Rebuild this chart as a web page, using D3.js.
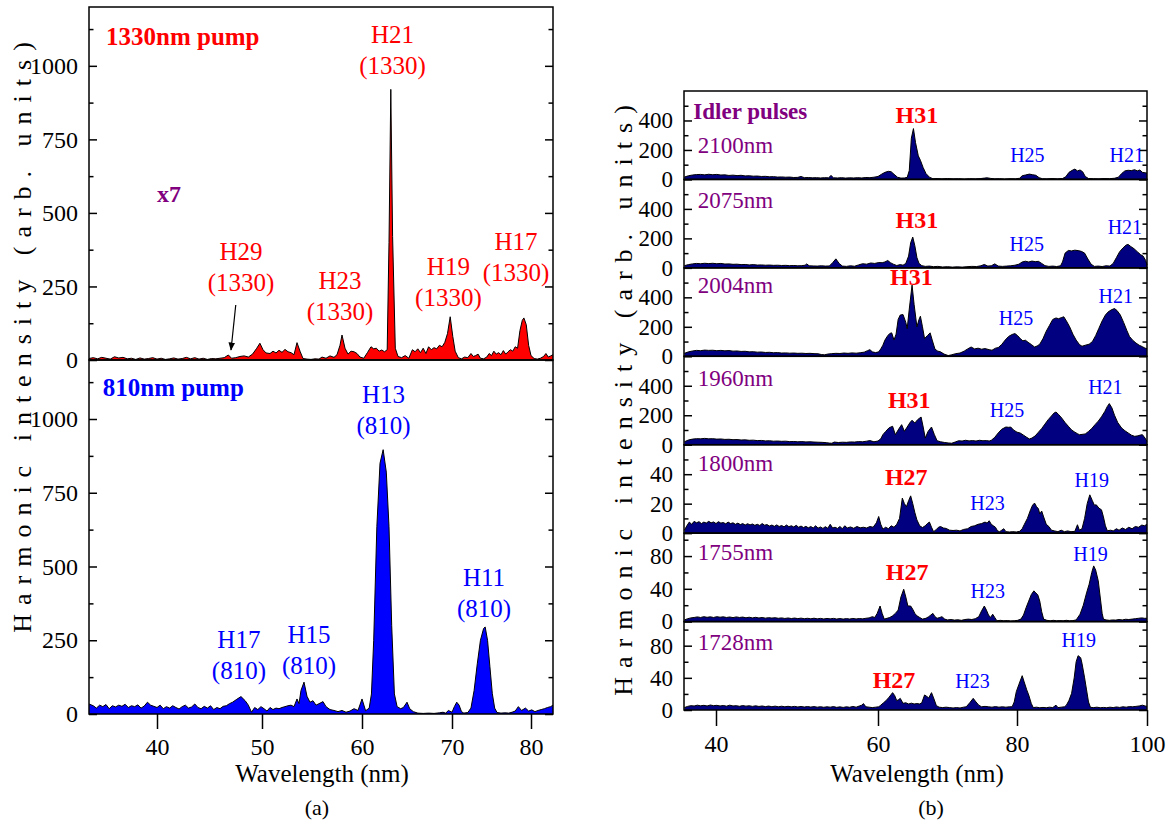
<!DOCTYPE html>
<html>
<head>
<meta charset="utf-8">
<script src="https://cdn.jsdelivr.net/npm/d3@7"></script>
<style>
body { margin: 0; background: #fff; }
svg, svg text { font-family: "Liberation Serif", "Times New Roman", "DejaVu Serif", serif; }
.spec-line { fill: none; stroke: #000; stroke-width: 1; }
.frame { fill: none; stroke: #000; stroke-width: 1.5; }
.tick line { stroke: #000; stroke-width: 1.5; }
</style>
</head>
<body>
<svg id="fig" width="1168" height="823"></svg>
<script>
// tick values
const leftTicks = [40, 50, 60, 70, 80];
const rightTicks = [40, 60, 80, 100];
const pumpMajor = [0, 250, 500, 750, 1000];
const pumpMinor = [125, 375, 625, 875, 1125];

// (a) 1330nm pump, x7   [wavelength nm, intensity]
const pump1330 = [[33.6,5],[34.0,8],[34.4,4],[34.8,9],[35.2,6],[35.6,3],[36.0,11],[36.4,7],[36.8,9],[37.2,4],[37.6,6],[38.0,2],[38.4,7],[38.8,3],[39.2,5],[39.6,8],[40.0,3],[40.4,6],[40.8,2],[41.2,4],[41.6,7],[42.0,3],[42.4,5],[42.8,9],[43.2,4],[43.6,8],[44.0,3],[44.4,6],[44.8,2],[45.2,5],[45.6,4],[46.0,6],[46.4,8],[46.8,17],[47.1,6],[47.5,8],[47.9,12],[48.3,14],[48.7,10],[49.1,20],[49.5,40],[49.8,57],[50.1,35],[50.4,24],[50.8,22],[51.1,30],[51.4,24],[51.7,33],[52.0,26],[52.3,36],[52.6,28],[52.9,25],[53.2,18],[53.5,59],[53.8,30],[54.1,5],[54.5,3],[54.9,2],[55.3,4],[55.7,3],[56.0,10],[56.4,6],[56.8,14],[57.2,9],[57.5,18],[57.8,50],[58.0,85],[58.3,40],[58.6,20],[58.9,30],[59.2,28],[59.5,22],[59.8,10],[60.2,6],[60.6,25],[61.0,45],[61.3,38],[61.6,40],[61.9,30],[62.2,34],[62.5,28],[62.8,35],[63.0,400],[63.2,920],[63.4,420],[63.7,40],[64.0,12],[64.4,8],[64.8,15],[65.2,6],[65.6,35],[65.9,28],[66.2,38],[66.5,25],[66.8,40],[67.1,22],[67.4,45],[67.7,35],[68.0,42],[68.3,38],[68.6,50],[68.9,45],[69.2,60],[69.5,90],[69.8,147],[70.1,80],[70.4,30],[70.8,8],[71.2,4],[71.6,10],[72.0,8],[72.4,22],[72.7,12],[73.0,15],[73.3,20],[73.6,6],[74.0,4],[74.4,10],[74.7,22],[75.0,15],[75.3,30],[75.6,20],[75.9,25],[76.2,18],[76.5,32],[76.8,20],[77.1,28],[77.4,35],[77.7,30],[78.0,45],[78.3,40],[78.6,100],[78.9,135],[79.1,143],[79.4,120],[79.7,50],[80.0,15],[80.4,5],[80.8,3],[81.2,6],[81.6,12],[81.9,22],[82.2,10],[82.5,14],[82.8,18]];

// (a) 810nm pump
const pump810 = [[33.6,34],[34.0,28],[34.3,20],[34.6,30],[34.9,25],[35.2,32],[35.5,18],[35.8,28],[36.1,24],[36.4,30],[36.7,26],[37.0,33],[37.3,22],[37.6,28],[37.9,25],[38.2,31],[38.5,20],[38.8,27],[39.1,40],[39.4,30],[39.7,26],[40.0,22],[40.3,30],[40.6,18],[40.9,25],[41.2,20],[41.5,28],[41.8,22],[42.1,17],[42.4,25],[42.7,30],[43.0,20],[43.3,24],[43.6,34],[43.9,22],[44.2,18],[44.5,26],[44.8,20],[45.1,28],[45.4,15],[45.7,22],[46.0,18],[46.3,26],[46.6,28],[46.9,35],[47.2,40],[47.6,50],[48.0,59],[48.4,45],[48.7,30],[49.0,6],[49.3,22],[49.6,15],[49.9,25],[50.2,18],[50.5,10],[50.8,22],[51.1,15],[51.4,20],[51.7,18],[52.0,22],[52.3,25],[52.6,28],[52.9,30],[53.2,25],[53.5,51],[53.7,35],[53.9,80],[54.2,108],[54.5,60],[54.8,40],[55.1,45],[55.4,30],[55.7,35],[56.1,42],[56.4,25],[56.8,15],[57.2,12],[57.6,8],[58.0,12],[58.4,6],[58.8,10],[59.2,18],[59.6,12],[60.0,51],[60.4,11],[60.8,20],[61.05,68],[61.3,250],[61.65,635],[62.0,850],[62.35,896],[62.7,820],[63.0,635],[63.3,300],[63.6,68],[63.9,25],[64.3,18],[64.6,22],[65.0,40],[65.3,18],[65.7,8],[66.2,3],[66.8,2],[67.4,3],[68.0,2],[68.6,4],[69.0,6],[69.3,3],[69.6,12],[70.0,6],[70.3,25],[70.6,40],[70.9,30],[71.2,8],[71.5,3],[72.0,5],[72.4,20],[72.8,80],[73.2,170],[73.6,250],[74.0,290],[74.2,295],[74.5,250],[74.8,160],[75.1,70],[75.4,20],[75.7,5],[76.2,3],[76.7,4],[77.2,3],[77.6,6],[78.0,10],[78.4,25],[78.8,12],[79.3,20],[79.7,10],[80.1,14],[80.5,8],[80.9,12],[81.3,15],[81.7,18],[82.1,22],[82.5,25],[82.8,30]];

// (b) idler pulses
const idler2100 = [[36.1,16],[36.6,25],[37.1,30],[37.6,33],[38.1,34],[38.6,31],[39.1,35],[39.6,32],[40.1,34],[40.6,30],[41.1,31],[41.6,27],[42.1,29],[42.6,26],[43.1,28],[43.6,24],[44.1,25],[44.6,22],[45.1,23],[45.6,20],[46.1,21],[46.6,18],[47.1,19],[47.6,16],[48.1,17],[48.6,15],[49.1,16],[49.6,13],[50.1,14],[50.5,20],[50.9,12],[51.4,13],[51.9,11],[52.4,12],[52.9,10],[53.4,12],[53.9,11],[54.2,27],[54.5,11],[55.0,10],[55.5,12],[56.0,9],[56.5,11],[57.0,10],[57.5,12],[58.0,10],[58.5,13],[59.0,12],[59.5,15],[60.0,20],[60.5,35],[61.0,48],[61.5,55],[61.9,52],[62.3,35],[62.8,15],[63.3,9],[63.8,10],[64.2,14],[64.5,60],[64.8,280],[65.1,345],[65.4,250],[65.8,160],[66.1,130],[66.5,80],[66.9,40],[67.4,15],[67.9,5],[68.5,6],[69.2,4],[70.0,6],[70.8,4],[71.6,5],[72.4,3],[73.2,5],[74.0,4],[74.8,6],[75.3,9],[75.7,11],[76.2,7],[76.8,4],[77.5,5],[78.2,3],[79.0,5],[79.8,4],[80.4,8],[80.8,25],[81.3,30],[81.9,36],[82.4,32],[82.9,28],[83.4,12],[83.9,5],[84.6,4],[85.4,6],[86.2,4],[87.0,6],[87.5,18],[88.0,48],[88.5,62],[88.9,70],[89.3,58],[89.7,64],[90.1,52],[90.5,20],[91.0,6],[91.8,5],[92.6,4],[93.4,6],[94.2,5],[95.0,8],[95.6,15],[96.1,40],[96.6,58],[97.1,62],[97.6,60],[98.1,66],[98.5,58],[98.9,64],[99.3,48],[99.7,45],[100,43]];
const idler2075 = [[36.1,15],[36.6,22],[37.1,27],[37.6,30],[38.1,28],[38.6,31],[39.1,29],[39.6,31],[40.1,28],[40.6,30],[41.1,26],[41.6,27],[42.1,24],[42.6,25],[43.1,22],[43.6,23],[44.1,20],[44.6,22],[45.1,19],[45.6,20],[46.1,18],[46.6,19],[47.1,17],[47.6,18],[48.1,16],[48.6,17],[49.1,15],[49.6,16],[50.1,14],[50.6,15],[51.0,18],[51.2,27],[51.5,14],[52.0,13],[52.5,12],[53.0,14],[53.5,12],[54.0,13],[54.4,35],[54.8,61],[55.2,30],[55.6,12],[56.1,10],[56.6,14],[57.1,11],[57.6,20],[58.1,28],[58.6,25],[59.1,33],[59.6,30],[60.1,36],[60.6,35],[61.0,40],[61.4,50],[61.8,35],[62.2,25],[62.7,16],[63.2,22],[63.6,18],[64.0,30],[64.4,80],[64.7,170],[65.0,209],[65.3,150],[65.6,70],[65.9,30],[66.3,15],[66.8,10],[67.4,12],[68.0,8],[68.6,10],[69.3,6],[70.0,8],[70.7,5],[71.4,7],[72.1,5],[72.8,8],[73.5,10],[74.2,9],[74.8,14],[75.3,23],[75.8,12],[76.3,14],[76.8,27],[77.3,12],[77.9,10],[78.5,12],[79.1,14],[79.7,18],[80.3,25],[80.8,40],[81.3,45],[81.8,40],[82.3,46],[82.8,42],[83.3,44],[83.8,30],[84.3,15],[84.9,10],[85.5,12],[86.1,9],[86.7,14],[87.0,40],[87.4,100],[87.9,118],[88.4,115],[88.9,120],[89.4,117],[89.9,112],[90.4,100],[90.9,60],[91.4,25],[91.9,10],[92.5,12],[93.1,9],[93.7,14],[94.3,12],[94.8,30],[95.3,70],[95.8,110],[96.3,135],[96.8,155],[97.1,159],[97.5,145],[98.0,130],[98.5,110],[99.0,90],[99.4,80],[99.8,50],[100,20]];
const idler2004 = [[36.1,20],[36.6,30],[37.1,36],[37.6,40],[38.1,38],[38.6,42],[39.1,40],[39.6,41],[40.1,38],[40.6,40],[41.1,37],[41.6,39],[42.1,35],[42.6,36],[43.1,33],[43.6,34],[44.1,30],[44.6,31],[45.1,28],[45.6,29],[46.1,26],[46.6,27],[47.1,24],[47.6,25],[48.1,22],[48.6,23],[49.1,21],[49.6,22],[50.1,20],[50.6,21],[51.1,19],[51.6,20],[52.1,18],[52.6,17],[53.0,12],[53.4,10],[53.8,15],[54.3,18],[54.8,20],[55.3,19],[55.8,22],[56.3,20],[56.8,23],[57.3,21],[57.8,24],[58.3,28],[58.7,38],[59.0,45],[59.3,30],[59.7,25],[60.1,30],[60.4,50],[60.7,75],[61.0,110],[61.4,140],[61.7,155],[61.97,159],[62.3,110],[62.6,150],[62.9,250],[63.2,280],[63.6,283],[64.0,230],[64.2,188],[64.5,320],[64.9,483],[65.2,350],[65.6,200],[65.9,250],[66.1,272],[66.4,200],[66.7,120],[67.1,140],[67.5,159],[67.8,110],[68.2,48],[68.6,35],[69.0,30],[69.5,15],[70.1,5],[70.6,10],[71.2,18],[71.8,22],[72.4,35],[72.9,50],[73.4,63],[73.9,50],[74.4,55],[74.9,48],[75.4,52],[76.0,45],[76.4,41],[76.9,55],[77.3,59],[77.8,80],[78.3,110],[78.8,135],[79.3,148],[79.7,154],[80.1,140],[80.5,120],[80.9,105],[81.3,109],[81.7,95],[82.2,80],[82.7,63],[83.1,70],[83.5,82],[84.0,120],[84.5,170],[85.0,210],[85.5,250],[86.0,260],[86.4,255],[86.8,262],[87.2,268],[87.6,240],[88.1,200],[88.6,150],[89.1,110],[89.6,80],[90.0,68],[90.5,75],[91.1,82],[91.6,100],[92.1,140],[92.6,190],[93.1,240],[93.6,280],[94.0,300],[94.5,315],[95.0,324],[95.4,310],[95.9,280],[96.4,230],[96.9,175],[97.3,135],[97.8,109],[98.3,90],[98.8,75],[99.3,65],[99.7,55],[100,52]];
const idler1960 = [[36.1,20],[36.6,32],[37.1,38],[37.6,41],[38.1,40],[38.6,43],[39.1,40],[39.6,41],[40.1,38],[40.6,39],[41.1,36],[41.6,37],[42.1,34],[42.6,35],[43.1,32],[43.6,33],[44.1,30],[44.6,31],[45.1,28],[45.6,29],[46.1,26],[46.6,27],[47.1,24],[47.6,25],[48.1,23],[48.6,24],[49.1,21],[49.6,22],[50.1,20],[50.6,21],[51.1,19],[51.6,20],[52.1,18],[52.6,17],[53.1,16],[53.6,14],[54.0,11],[54.3,10],[54.6,18],[55.1,15],[55.6,17],[56.1,16],[56.6,19],[57.1,18],[57.6,21],[58.1,20],[58.6,24],[59.0,28],[59.5,20],[60.0,25],[60.4,40],[60.7,68],[61.1,90],[61.6,115],[62.1,125],[62.5,68],[62.9,100],[63.4,136],[63.8,91],[64.2,120],[64.6,150],[64.9,166],[65.3,147],[65.7,170],[66.2,188],[66.5,120],[66.8,45],[67.2,90],[67.7,120],[68.1,70],[68.5,27],[69.0,20],[69.6,15],[70.1,12],[70.6,10],[71.1,18],[71.6,27],[72.1,25],[72.6,30],[73.1,26],[73.6,28],[74.1,25],[74.6,30],[75.1,27],[75.6,28],[76.0,25],[76.3,30],[76.8,50],[77.3,80],[77.8,105],[78.4,120],[78.8,118],[79.1,120],[79.5,100],[80.0,85],[80.5,79],[81.0,65],[81.5,50],[81.9,39],[82.3,45],[82.8,60],[83.3,85],[83.8,110],[84.3,140],[84.8,170],[85.3,195],[85.7,215],[86.0,222],[86.4,205],[86.9,180],[87.4,150],[87.9,125],[88.4,100],[88.9,85],[89.3,75],[89.6,68],[90.0,70],[90.5,73],[91.0,90],[91.5,110],[92.0,136],[92.5,160],[93.0,190],[93.5,225],[93.9,260],[94.2,279],[94.6,250],[95.0,200],[95.5,150],[96.1,113],[96.6,95],[97.1,80],[97.6,65],[98.1,57],[98.6,60],[99.0,66],[99.3,68],[99.7,45],[100,23]];
const idler1800 = [[36.1,2],[36.4,5],[36.7,7.5],[37.0,6],[37.3,8],[37.6,7],[37.9,7.8],[38.2,6.5],[38.5,7.5],[38.8,6.8],[39.1,8],[39.4,7],[39.7,7.6],[40.0,6.5],[40.3,7.8],[40.6,6.8],[40.9,7.2],[41.2,6.3],[41.5,7.5],[41.8,6.5],[42.1,7],[42.4,6],[42.7,6.8],[43.0,5.8],[43.3,6.5],[43.6,5.5],[43.9,6.4],[44.2,5.6],[44.5,6.2],[44.8,5.3],[45.1,6],[45.4,5.2],[45.7,6.5],[46.0,5.4],[46.3,5.8],[46.6,4.8],[46.9,5.5],[47.2,4.6],[47.5,5.6],[47.8,4.5],[48.1,5.2],[48.4,4.3],[48.7,5.5],[49.0,4.4],[49.3,5],[49.6,4.2],[49.9,5.3],[50.2,4],[50.5,4.8],[50.8,3.8],[51.1,4.6],[51.4,3.6],[51.7,4.5],[52.0,3.5],[52.3,5],[52.6,3.4],[52.9,4.2],[53.2,3.2],[53.5,4.4],[53.8,3.3],[54.1,6],[54.4,3.5],[54.7,4],[55.0,3.2],[55.3,4.5],[55.6,3],[55.9,5],[56.2,3.5],[56.6,4.2],[57.0,3.3],[57.4,4.5],[57.8,3.6],[58.2,4],[58.6,3.5],[59.0,4.5],[59.4,4],[59.8,7],[60.1,11.3],[60.4,6],[60.7,2.7],[61.1,4],[61.5,3],[61.9,5],[62.3,4],[62.7,6],[63.1,10],[63.5,23.8],[63.8,20],[64.1,18],[64.4,22],[64.7,25.3],[65.0,20],[65.3,14],[65.6,9],[66.0,5],[66.4,3.8],[66.8,5],[67.1,6.5],[67.4,7.5],[67.7,4],[68.0,1],[68.4,2.5],[68.7,4],[69.0,4.5],[69.4,3.5],[69.8,3.2],[70.3,2],[70.8,1.8],[71.3,2],[71.8,1.5],[72.3,2.5],[72.9,3],[73.4,4.5],[73.9,5],[74.4,6],[74.9,6.5],[75.4,7.5],[75.7,6.8],[76.0,8.4],[76.3,6],[76.6,5],[76.9,4],[77.2,1.5],[77.5,1],[77.8,2],[78.1,3],[78.4,1],[78.9,0.8],[79.4,1],[79.9,0.8],[80.4,1.2],[80.8,3],[81.1,5.7],[81.6,10],[82.1,16],[82.4,19],[82.7,20.4],[83.0,18],[83.3,16.5],[83.5,13],[83.8,15],[84.1,11],[84.5,6],[84.9,4.5],[85.3,2],[85.8,1.5],[86.3,1],[86.8,2],[87.3,1],[87.8,1.5],[88.3,1],[88.9,1.2],[89.3,5.7],[89.6,2],[90.0,3],[90.4,10],[90.8,20],[91.2,26],[91.6,22],[91.9,19],[92.2,19.2],[92.6,17],[93.0,15.8],[93.3,11],[93.6,5],[93.9,1.6],[94.4,2],[94.8,1.5],[95.3,3],[95.7,2],[96.2,3.5],[96.7,2.5],[97.2,4],[97.7,3],[98.2,4.5],[98.7,4],[99.2,5.5],[99.6,5],[100,6]];
const idler1755 = [[36.1,2],[36.5,3.5],[36.9,4.5],[37.3,5],[37.7,5.7],[38.1,5],[38.5,6],[38.9,5.2],[39.3,5.8],[39.7,5],[40.1,6],[40.5,5.3],[40.9,5.8],[41.3,5],[41.7,5.6],[42.1,4.8],[42.5,5.7],[42.9,5],[43.3,5.5],[43.7,4.6],[44.1,5.3],[44.5,4.5],[44.9,5.2],[45.3,4.4],[45.7,5],[46.1,4.2],[46.5,4.8],[46.9,4.3],[47.3,4.7],[47.7,4],[48.1,4.5],[48.5,3.8],[48.9,4.4],[49.3,3.7],[49.7,4.3],[50.1,3.6],[50.5,4.2],[50.9,3.5],[51.3,4],[51.7,3.4],[52.1,4.1],[52.5,3.3],[52.9,3.9],[53.3,3.2],[53.7,3.8],[54.1,3.3],[54.5,3.9],[54.9,3.1],[55.3,3.7],[55.7,3],[56.1,3.6],[56.5,3.1],[56.9,3.8],[57.3,3.2],[57.7,3.7],[58.1,3.3],[58.5,4],[58.9,4.5],[59.3,6],[59.6,5],[59.9,10],[60.3,19],[60.6,10],[60.9,3],[61.3,4],[61.7,5],[62.1,7],[62.5,10],[62.9,14],[63.3,30],[63.7,39.5],[64.0,30],[64.3,19],[64.7,19],[65.0,15],[65.3,10],[65.6,7],[66.0,5],[66.4,3],[66.9,4],[67.3,6],[67.6,8],[67.9,10],[68.2,6],[68.5,4],[68.9,5],[69.2,6],[69.6,3],[70.0,2],[70.5,2.5],[71.0,1.8],[71.5,2.2],[72.0,1.5],[72.5,2.5],[73.0,3],[73.5,2.5],[74.0,3.5],[74.5,6],[74.9,13],[75.3,19],[75.6,14],[75.9,8],[76.2,5],[76.5,9],[76.8,5],[77.1,1],[77.6,1.5],[78.1,1],[78.6,1.2],[79.1,0.8],[79.6,1],[80.1,1.5],[80.6,3],[81.0,8],[81.4,17],[81.8,25],[82.2,33],[82.6,37.5],[82.9,35],[83.2,32.6],[83.5,25],[83.8,12],[84.1,3],[84.6,1.5],[85.1,1],[85.6,1.5],[86.1,1],[86.6,1.2],[87.1,1],[87.6,1.5],[88.1,1],[88.6,1.2],[89.1,2],[89.7,9],[90.2,20],[90.7,35],[91.1,45.6],[91.5,60],[91.8,68],[92.1,63],[92.5,49.7],[92.8,30],[93.1,10],[93.3,3],[93.7,2],[94.2,1.5],[94.7,2],[95.2,1.8],[95.7,2.5],[96.2,2],[96.7,2.8],[97.2,2.5],[97.7,3],[98.2,3.5],[98.7,4],[99.2,4.5],[99.6,4],[100,4]];
const idler1728 = [[36.1,3],[36.5,4.5],[36.9,5.4],[37.3,5],[37.7,6],[38.1,5.2],[38.5,5.8],[38.9,5],[39.3,6.2],[39.7,5.4],[40.1,5.8],[40.5,5],[40.9,5.6],[41.3,4.8],[41.7,6],[42.1,5],[42.5,5.4],[42.9,4.6],[43.3,5.5],[43.7,4.8],[44.1,5.3],[44.5,4.5],[44.9,5.2],[45.3,4.4],[45.7,5],[46.1,4.2],[46.5,4.9],[46.9,4.1],[47.3,4.8],[47.7,4],[48.1,4.7],[48.5,4],[48.9,4.6],[49.3,3.9],[49.7,4.5],[50.1,3.8],[50.5,4.4],[50.9,3.7],[51.3,4.3],[51.7,3.6],[52.1,4.2],[52.5,3.5],[52.9,4.1],[53.3,3.4],[53.7,4],[54.1,3.5],[54.5,4.2],[54.9,3.3],[55.3,3.9],[55.7,3.2],[56.1,4],[56.5,3.4],[56.9,4.4],[57.3,3.5],[57.7,5],[58.0,6],[58.2,8],[58.5,4],[58.9,3.5],[59.3,3],[59.7,3.5],[60.1,4],[60.4,6],[60.8,9],[61.2,12],[61.6,16],[62.1,21.6],[62.4,18],[62.7,11.6],[63.0,13],[63.2,14.5],[63.6,8.3],[64.0,9],[64.4,7.5],[64.8,8.5],[65.2,7.5],[65.6,8],[66.0,7.5],[66.3,9],[66.7,18.7],[67.0,17],[67.3,15],[67.7,21.6],[68.0,15],[68.4,5.4],[68.8,3.5],[69.3,3],[69.8,3.5],[70.3,3],[70.8,2.5],[71.3,3],[71.8,2.5],[72.3,3.5],[72.7,4],[73.2,9],[73.7,14.5],[74.1,10],[74.5,6],[74.9,4],[75.4,4.5],[75.9,4],[76.4,3.5],[76.9,4.2],[77.4,3.5],[77.9,4],[78.4,3.5],[78.9,4],[79.3,4],[79.6,10],[79.9,22.8],[80.3,32],[80.8,42.7],[81.1,35],[81.5,25],[81.8,18.7],[82.2,8],[82.5,3],[83.0,3.5],[83.5,2.8],[84.0,3.2],[84.5,2.8],[85.0,3.5],[85.5,3],[86.0,6],[86.3,3],[86.8,3.5],[87.3,4],[87.6,6],[88.0,12],[88.4,20.7],[88.8,40],[89.1,60],[89.4,67.6],[89.8,65],[90.0,58],[90.4,40],[90.7,25],[91.0,10],[91.3,3.3],[91.8,3],[92.3,3.5],[92.8,2.8],[93.3,3.2],[93.8,2.8],[94.3,3.5],[94.8,3],[95.3,3.8],[95.8,3.2],[96.3,4],[96.8,3.5],[97.3,4.2],[97.8,4],[98.3,4.5],[98.8,5],[99.3,6],[99.7,5],[100,4.5]];

const idlerSpectra = [idler2100, idler2075, idler2004, idler1960, idler1800, idler1755, idler1728];
const idlerNames = ["2100nm", "2075nm", "2004nm", "1960nm", "1800nm", "1755nm", "1728nm"];
const idlerMax = [600, 600, 600, 600, 60, 108, 110];
const idlerMajor = [[0,200,400],[0,200,400],[0,200,400],[0,200,400],[0,20,40],[0,40,80],[0,40,80]];
const idlerMinor = [[100,300,500],[100,300,500],[100,300,500],[100,300,500],[10,30,50],[20,60,100],[20,60,100]];

// annotation anchors in data units [nm, intensity]
const labels1330 = [
    {lines: ["H21", "(1330)"], at: [63.4, 1078]},
    {lines: ["H29", "(1330)"], at: [48.0, 340]},
    {lines: ["H23", "(1330)"], at: [57.8, 241]},
    {lines: ["H19", "(1330)"], at: [69.6, 289]},
    {lines: ["H17", "(1330)"], at: [78.1, 374]}
];
const labels810 = [
    {lines: ["H13", "(810)"], at: [62.4, 1054]},
    {lines: ["H11", "(810)"], at: [74.05, 435]},
    {lines: ["H17", "(810)"], at: [47.8, 224]},
    {lines: ["H15", "(810)"], at: [54.7, 241]}
];
const idlerNameAt = [177, 404, 427, 400, 42.4, 75.2, 74.6];
const idlerLabels = [
    [{t: "H31", at: [65.6, 385], bold: true}, {t: "H25", at: [81.6, 120]}, {t: "H21", at: [96.9, 120]}],
    [{t: "H31", at: [65.6, 268], bold: true}, {t: "H25", at: [81.5, 116]}, {t: "H21", at: [96.6, 230]}],
    [{t: "H31", at: [64.8, 484], bold: true}, {t: "H25", at: [79.85, 212]}, {t: "H21", at: [95.2, 364]}],
    [{t: "H31", at: [64.5, 251], bold: true}, {t: "H25", at: [78.55, 190]}, {t: "H21", at: [93.6, 342]}],
    [{t: "H27", at: [64.06, 32.7], bold: true}, {t: "H23", at: [75.77, 15.7]}, {t: "H19", at: [91.5, 31.1]}],
    [{t: "H27", at: [64.2, 50.8], bold: true}, {t: "H23", at: [75.8, 28.4]}, {t: "H19", at: [91.3, 74.4]}],
    [{t: "H27", at: [62.3, 27], bold: true}, {t: "H23", at: [73.6, 27]}, {t: "H19", at: [89.5, 78.7]}]
];

const attr = {
    font: "'Liberation Serif', 'Times New Roman', 'DejaVu Serif', serif",
    left: {x0: 89, x1: 553, top: 7, mid: 360, bottom: 714},
    right: {x0: 684, x1: 1147, top: 91, bottom: 710},
    // spectrometer calibration: tick wavelengths are not evenly spaced
    leftNm: [33.6, 40, 50, 60, 70, 80, 82.8],
    leftPx: [89, 157, 262, 362, 452, 531, 553],
    rightNm: [36.05, 40, 60, 80, 100],
    rightPx: [684, 716, 878, 1017, 1147],
    red: "#ff0000",
    blue: "#0000ff",
    navy: "#000080",
    purple: "#800080"
};

const svg = d3.select("#fig");

const addText = function(g, x, y, str, size, color, bold) {
    return g.append("text")
        .attr("x", x).attr("y", y)
        .attr("font-family", attr.font)
        .style("font-family", attr.font)
        .style("font-size", size + "px")
        .style("font-weight", bold ? "bold" : "normal")
        .style("fill", color || "#000")
        .text(str);
};

const drawSpectrum = function(g, data, x, y, fill) {
    let area = d3.area().x(d => x(d[0])).y0(y(0)).y1(d => y(d[1]));
    let line = d3.line().x(d => x(d[0])).y(d => y(d[1]));
    g.append("path").datum(data).attr("d", area).style("fill", fill);
    g.append("path").datum(data).attr("d", line).attr("class", "spec-line");
};

const styleAxis = function(g, size) {
    g.attr("font-family", attr.font);
    g.select(".domain").remove();
    g.selectAll("text")
        .style("font-family", attr.font)
        .style("font-size", size + "px")
        .style("fill", "#000");
};

const drawYAxes = function(g, y, x0, x1, major, minor, labelSize) {
    let a = g.append("g").attr("transform", "translate(" + x0 + ",0)")
        .call(d3.axisLeft(y).tickValues(major).tickSize(-8).tickPadding(11).tickFormat(d3.format("d")));
    styleAxis(a, labelSize);
    g.append("g").attr("transform", "translate(" + x0 + ",0)")
        .call(d3.axisLeft(y).tickValues(minor).tickSize(-4.5).tickFormat(""))
        .call(s => s.select(".domain").remove());
    g.append("g").attr("transform", "translate(" + x1 + ",0)")
        .call(d3.axisRight(y).tickValues(major).tickSize(-8).tickFormat(""))
        .call(s => s.select(".domain").remove());
    g.append("g").attr("transform", "translate(" + x1 + ",0)")
        .call(d3.axisRight(y).tickValues(minor).tickSize(-4.5).tickFormat(""))
        .call(s => s.select(".domain").remove());
};

const frame = function(g, x0, x1, y0, y1) {
    g.append("rect").attr("class", "frame")
        .attr("x", x0).attr("y", y0).attr("width", x1 - x0).attr("height", y1 - y0);
};

const multiLine = function(g, lines, x, y, color, size, gap) {
    let t = addText(g, x, y, null, size, color, false).attr("text-anchor", "middle");
    lines.forEach(function(s, i) {
        t.append("tspan").attr("x", x).attr("dy", i === 0 ? 0 : gap).text(s);
    });
};

// ---------- panel (a) ----------
const L = attr.left;
const xA = d3.scaleLinear().domain(attr.leftNm).range(attr.leftPx);
const yTop = d3.scaleLinear().domain([0, 1200]).range([L.mid, L.top]);
const yBot = d3.scaleLinear().domain([0, 1200]).range([L.bottom, L.mid]);

const gA = svg.append("g");
drawSpectrum(gA.append("g"), pump1330, xA, yTop, attr.red);
drawSpectrum(gA.append("g"), pump810, xA, yBot, attr.blue);
frame(gA, L.x0, L.x1, L.top, L.mid);
frame(gA, L.x0, L.x1, L.mid, L.bottom);
drawYAxes(gA, yTop, L.x0, L.x1, pumpMajor, pumpMinor, 24);
drawYAxes(gA, yBot, L.x0, L.x1, pumpMajor, pumpMinor, 24);

let axA = gA.append("g").attr("transform", "translate(0," + L.bottom + ")")
    .call(d3.axisBottom(xA).tickValues(leftTicks).tickSize(15).tickPadding(9));
styleAxis(axA, 24);

labels1330.forEach(d => multiLine(gA, d.lines, xA(d.at[0]), yTop(d.at[1]), attr.red, 25, 31));
labels810.forEach(d => multiLine(gA, d.lines, xA(d.at[0]), yBot(d.at[1]), attr.blue, 25, 31));

addText(gA, xA(35.2), yTop(1071), "1330nm pump", 25, attr.red, true);
addText(gA, xA(34.9), yBot(1079), "810nm pump", 25, attr.blue, true);
addText(gA, xA(40.0), yTop(537), "x7", 24, attr.purple, true);

svg.append("defs").append("marker")
    .attr("id", "head").attr("viewBox", "0 0 10 10")
    .attr("refX", 9).attr("refY", 5)
    .attr("markerWidth", 7).attr("markerHeight", 9)
    .attr("orient", "auto")
    .append("path").attr("d", "M0,1 L10,5 L0,9 Z").style("fill", "#000");

gA.append("line")
    .attr("x1", xA(47.5)).attr("y1", yTop(187))
    .attr("x2", xA(47.05)).attr("y2", yTop(34))
    .style("stroke", "#000").style("stroke-width", 1.2)
    .attr("marker-end", "url(#head)");

// ---------- panel (b) ----------
const R = attr.right;
const xB = d3.scaleLinear().domain(attr.rightNm).range(attr.rightPx);
const bandH = (R.bottom - R.top) / idlerSpectra.length;
const gB = svg.append("g");

idlerSpectra.forEach(function(data, i) {
    let y0 = R.top + i * bandH;
    let y = d3.scaleLinear().domain([0, idlerMax[i]]).range([y0 + bandH, y0]);
    let g = gB.append("g");
    drawSpectrum(g, data, xB, y, attr.navy);
    frame(g, R.x0, R.x1, y0, y0 + bandH);
    drawYAxes(g, y, R.x0, R.x1, idlerMajor[i], idlerMinor[i], 23);

    addText(g, xB(37.75), y(idlerNameAt[i]), idlerNames[i], 23, attr.purple, false);

    idlerLabels[i].forEach(function(d) {
        addText(g, xB(d.at[0]), y(d.at[1]), d.t, d.bold ? 24 : 20,
                d.bold ? attr.red : attr.blue, d.bold)
            .attr("text-anchor", "middle");
    });

    if (i === 0) {
        addText(g, xB(37.2), y(408), "Idler pulses", 23, attr.purple, true);
    }
});

let axB = gB.append("g").attr("transform", "translate(0," + R.bottom + ")")
    .call(d3.axisBottom(xB).tickValues(rightTicks).tickSize(16).tickPadding(9));
styleAxis(axB, 24);

// ---------- titles ----------
const yTitle = function(x, y) {
    addText(svg, 0, 0, "Harmonic intensity (arb. units)", 26, "#000", false)
        .attr("transform", "translate(" + x + "," + y + ") rotate(-90)")
        .attr("text-anchor", "middle")
        .style("letter-spacing", "9px");
};
yTitle(31, 333);
yTitle(632, 396);

addText(svg, 322, 782, "Wavelength (nm)", 25).attr("text-anchor", "middle");
addText(svg, 917, 782, "Wavelength (nm)", 25).attr("text-anchor", "middle");
addText(svg, 317, 815, "(a)", 22).attr("text-anchor", "middle");
addText(svg, 931, 815, "(b)", 22).attr("text-anchor", "middle");
</script>
</body>
</html>
